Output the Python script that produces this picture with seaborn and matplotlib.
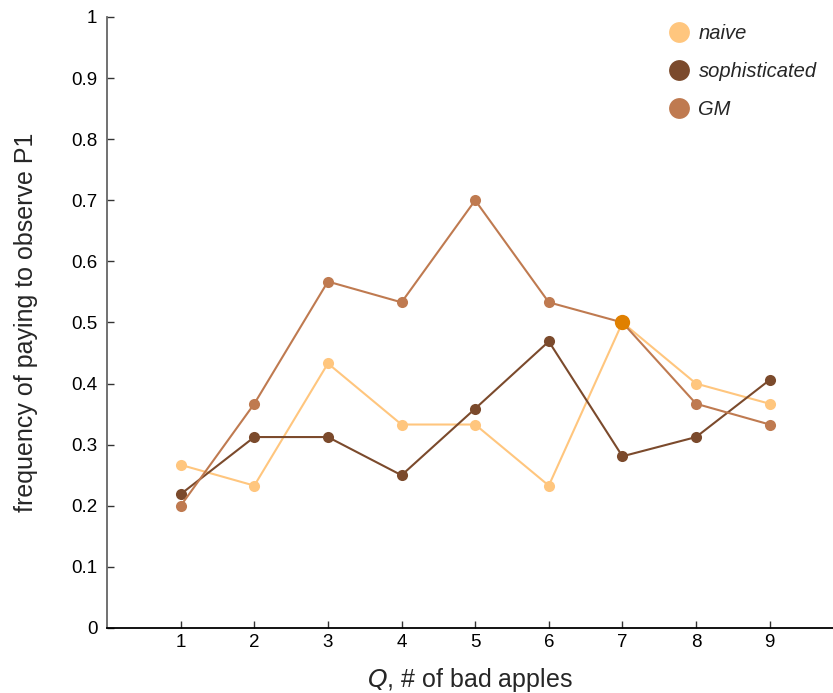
import matplotlib
matplotlib.use("Agg")
import matplotlib.pyplot as plt
import seaborn as sns
import pandas as pd
from matplotlib.lines import Line2D

q_values = [1, 2, 3, 4, 5, 6, 7, 8, 9]
naive = [0.267, 0.233, 0.433, 0.333, 0.333, 0.233, 0.500, 0.400, 0.367]
sophisticated = [0.219, 0.3125, 0.3125, 0.25, 0.359, 0.469, 0.281, 0.3125, 0.406]
gm = [0.200, 0.367, 0.567, 0.533, 0.700, 0.533, 0.500, 0.367, 0.333]
series_names = ["naive", "sophisticated", "GM"]
highlight_q = 7
highlight_val = 0.5

colors = {"naive": "#FFC67E", "sophisticated": "#7B4A2C", "GM": "#BF7A50"}

df = pd.DataFrame({
    "Q": q_values * 3,
    "freq": naive + sophisticated + gm,
    "group": ["naive"] * 9 + ["sophisticated"] * 9 + ["GM"] * 9,
})

sns.set_style("white")
plt.rcParams['font.family'] = ['Liberation Sans', 'DejaVu Sans']

fig = plt.figure(figsize=(8.33, 6.93), dpi=100)
ax = fig.add_axes([0.1285, 0.0938, 0.8715, 0.8817])

for name in series_names:
    sub = df[df["group"] == name]
    sns.lineplot(data=sub, x="Q", y="freq", ax=ax, color=colors[name],
                 marker="o", markersize=8, markeredgewidth=0, linewidth=1.5,
                 legend=False)

ax.plot([highlight_q], [highlight_val], "o", color="#E08000", markersize=11,
        markeredgewidth=0, zorder=5)

ax.set_xlim(0, 9.86)
ax.set_ylim(0, 1)
ax.set_xticks(q_values)
ax.set_yticks([i / 10 for i in range(11)])
ax.set_yticklabels(["0", "0.1", "0.2", "0.3", "0.4", "0.5", "0.6", "0.7", "0.8", "0.9", "1"])
ax.tick_params(axis="both", direction="in", length=5, width=1, labelsize=13.5,
               colors="#333333", labelcolor="black", left=True, bottom=True)
ax.tick_params(axis="y", pad=7)
ax.tick_params(axis="x", pad=4)

for s in ["top", "right"]:
    ax.spines[s].set_visible(False)
ax.spines["left"].set_color("#666666")
ax.spines["bottom"].set_color("black")
ax.spines["left"].set_linewidth(1.3)
ax.spines["bottom"].set_linewidth(1.3)

ax.set_ylabel("frequency of paying to observe P1", fontsize=18, labelpad=24)
ax.set_xlabel("$\\it{Q}$, # of bad apples", fontsize=18, labelpad=11)

handles = [Line2D([0], [0], marker="o", linestyle="none", markersize=15,
                  markerfacecolor=colors[n], markeredgewidth=0) for n in series_names]
leg = ax.legend(handles, series_names, loc="upper left", frameon=False,
                bbox_to_anchor=(0.7495, 1.018), prop={"style": "italic", "size": 14.5},
                handlelength=1.0, handletextpad=0.45, labelspacing=0.93)

fig.savefig("out.png", dpi=100)
